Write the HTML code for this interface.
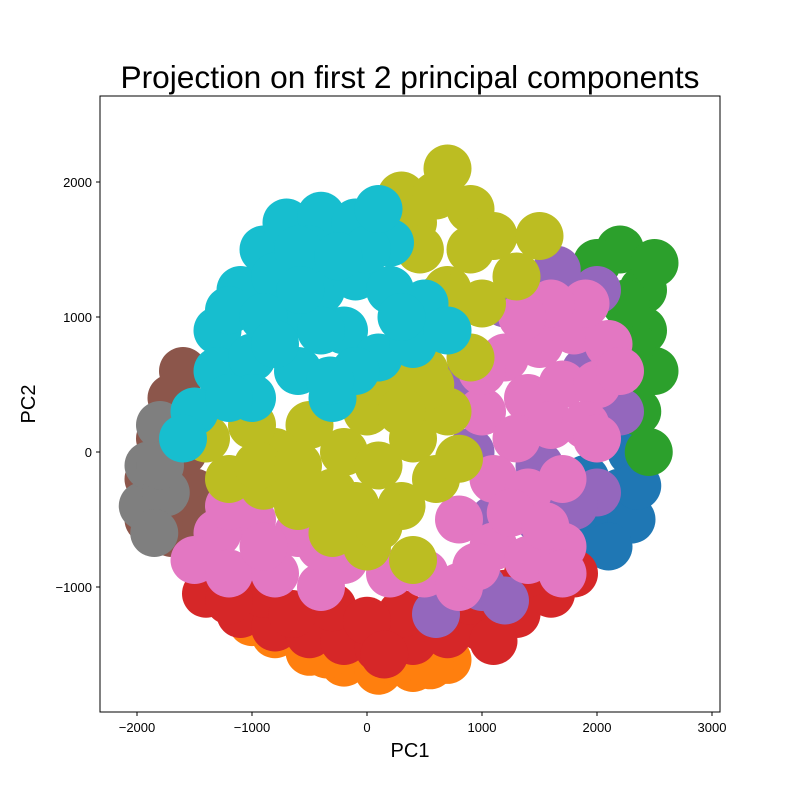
<!DOCTYPE html>
<html><head><meta charset="utf-8"><style>
body{margin:0;background:#fff}
svg{display:block;font-family:"Liberation Sans","DejaVu Sans",sans-serif}
</style></head><body>
<svg id="chart" width="800" height="800" viewBox="0 0 800 800">
<rect width="800" height="800" fill="#fff"/>
<text x="410" y="88" font-size="31.5" text-anchor="middle" textLength="579" lengthAdjust="spacingAndGlyphs">Projection on first 2 principal components</text>
<defs><clipPath id="clip"><rect x="100" y="96" width="620" height="616"/></clipPath></defs>
<g id="marks" clip-path="url(#clip)"></g>
<rect x="100" y="96" width="620" height="616" fill="none" stroke="#000" stroke-width="1"/>
<g id="axes"></g>
<text x="410" y="757" font-size="20" text-anchor="middle">PC1</text>
<text x="35" y="404" font-size="20" text-anchor="middle" transform="rotate(-90 35 404)">PC2</text>
</svg>
<script>
const xTicks=[-2000,-1000,0,1000,2000,3000];
const yTicks=[-1000,0,1000,2000];
const classColors=["#1f77b4","#2ca02c","#ff7f0e","#d62728","#9467bd","#8c564b","#7f7f7f","#e377c2","#bcbd22","#17becf"];
const classNames=["blue","green","orange","red","purple","brown","gray","pink","olive","cyan"];
const blueClass=[[2000,-500],[2200,-300],[2300,-500],[1800,-800],[1600,-1000],[2100,-700],[2300,0],[1900,-200],[2350,-250]];
const greenClass=[[2200,1500],[2400,1200],[2400,900],[2500,600],[2350,300],[2450,0],[2000,1400],[2500,1400],[2300,800],[2250,1100]];
const orangeClass=[[-800,-1350],[-500,-1480],[-200,-1560],[100,-1620],[400,-1600],[700,-1540],[-1000,-1260],[250,-1550],[-350,-1500],[550,-1580]];
const redClass=[[-1400,-1050],[-1100,-1200],[-800,-1300],[-500,-1350],[-200,-1400],[100,-1450],[400,-1400],[700,-1350],[1000,-1300],[1300,-1200],[1600,-1050],[-900,-1050],[-300,-1150],[300,-1200],[900,-1100],[1400,-900],[1800,-900],[0,-1250],[-650,-1200],[600,-1200],[1200,-1050],[-1200,-1100],[1100,-1400],[150,-1500]];
const purpleClass=[[800,500],[1200,1100],[1500,1200],[2000,1200],[2200,300],[900,0],[2000,-300],[1800,-400],[1500,-500],[1000,-1000],[600,-1200],[1200,-1100],[1700,1000],[1900,600],[1100,-500],[1500,-100],[1350,1150],[1650,1350]];
const brownClass=[[-1900,-200],[-1800,100],[-1700,400],[-1600,600],[-1900,-500],[-1700,-600],[-1500,-300],[-1400,-500],[-1600,0],[-1500,300]];
const grayClass=[[-1950,-400],[-1900,-100],[-1800,200],[-1750,-300],[-1850,-600],[-1800,-100]];
const pinkClass=[[1200,700],[1500,800],[1800,900],[2100,800],[1400,400],[1700,500],[2000,500],[2200,600],[1000,300],[1300,100],[1600,200],[1900,200],[1100,-200],[1400,-300],[1700,-200],[800,-500],[1100,-700],[1400,-800],[1700,-700],[500,-900],[800,-1000],[200,-900],[-200,-800],[-600,-600],[-1000,-500],[-1300,-600],[-1500,-800],[-1200,-900],[-800,-900],[-400,-1000],[1900,1100],[1600,1100],[1000,600],[1250,-450],[1550,-550],[2000,100],[950,-850],[-900,-700],[-1200,-400],[-400,-700],[1700,-900],[1350,1000]];
const oliveClass=[[300,1900],[600,1900],[900,1800],[700,2100],[400,1700],[1100,1600],[900,1500],[1300,1300],[-500,200],[-200,0],[100,-100],[400,100],[0,300],[-300,-300],[300,-400],[600,-200],[700,300],[500,600],[900,700],[-800,0],[-1000,200],[-600,-400],[0,-700],[400,-800],[-1400,100],[700,1200],[1000,1100],[200,500],[-300,-600],[-900,-250],[-1200,-200],[800,-50],[-100,-400],[100,-550],[550,500],[-950,-100],[460,1500],[650,1150],[1500,1600],[300,300],[-600,-100]];
const cyanClass=[[-1300,900],[-1100,1200],[-900,1500],[-700,1700],[-400,1750],[-100,1700],[200,1550],[-1300,600],[-1000,700],[-700,1000],[-400,1200],[-100,1300],[200,1200],[500,1100],[-800,1300],[-500,1500],[-1000,400],[-600,600],[-200,900],[100,700],[400,800],[700,900],[-1500,300],[-300,400],[-1600,100],[-1200,1050],[-600,1500],[0,1500],[-900,1000],[-400,900],[-100,600],[300,1000],[-800,800],[-1200,400],[-320,530],[-580,1200],[100,1800],[-250,1450]];
const series=[blueClass,greenClass,orangeClass,redClass,purpleClass,brownClass,grayClass,pinkClass,oliveClass,cyanClass];

function xScale(v){return 367+v*0.115;}
function yScale(v){return 452-v*0.135;}
const NS="http://www.w3.org/2000/svg";
const marks=document.getElementById('marks');
series.forEach((pts,ci)=>{
  const g=document.createElementNS(NS,'g');
  
  
  pts.forEach(p=>{
    const c=document.createElementNS(NS,'circle');
    c.setAttribute('cx',xScale(p[0]));
    c.setAttribute('cy',yScale(p[1]));
    c.setAttribute('r',24);
    c.setAttribute('fill',classColors[ci]);
    
    
    g.appendChild(c);
  });
  marks.appendChild(g);
});
const axes=document.getElementById('axes');
xTicks.forEach(t=>{
  const x=xScale(t);
  const l=document.createElementNS(NS,'line');
  l.setAttribute('x1',x);l.setAttribute('x2',x);l.setAttribute('y1',712);l.setAttribute('y2',716);l.setAttribute('stroke','#000');
  
  
  axes.appendChild(l);
  const tx=document.createElementNS(NS,'text');
  tx.setAttribute('x',x);tx.setAttribute('y',732);tx.setAttribute('font-size','13');tx.setAttribute('text-anchor','middle');
  tx.textContent=t<0?'\u2212'+Math.abs(t):String(t);
  
  
  axes.appendChild(tx);
});
yTicks.forEach(t=>{
  const y=yScale(t);
  const l=document.createElementNS(NS,'line');
  l.setAttribute('x1',96);l.setAttribute('x2',100);l.setAttribute('y1',y);l.setAttribute('y2',y);l.setAttribute('stroke','#000');
  
  
  axes.appendChild(l);
  const tx=document.createElementNS(NS,'text');
  tx.setAttribute('x',92);tx.setAttribute('y',y+5);tx.setAttribute('font-size','13');tx.setAttribute('text-anchor','end');
  tx.textContent=t<0?'\u2212'+Math.abs(t):String(t);
  
  
  axes.appendChild(tx);
});
</script>
</body></html>
